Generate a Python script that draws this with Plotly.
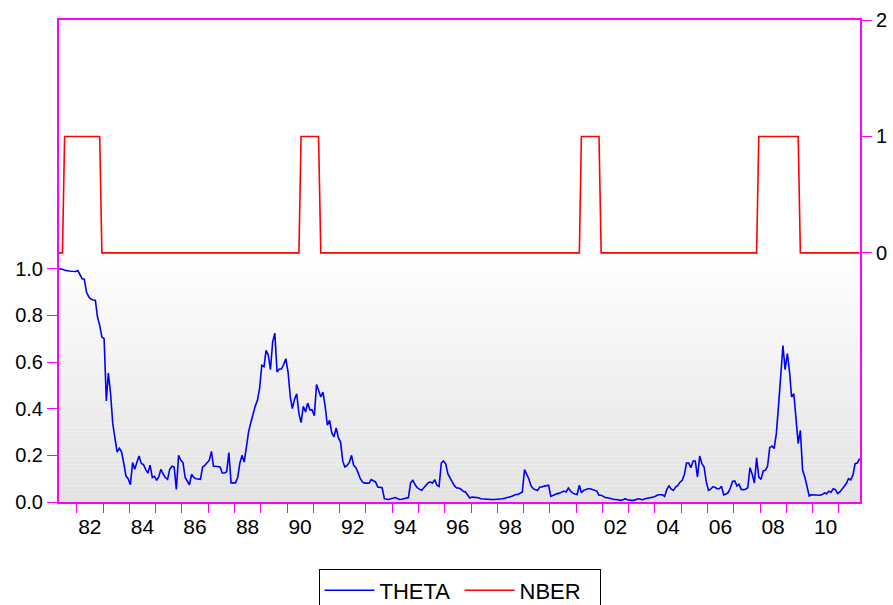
import plotly.graph_objects as go
import pandas as pd

# ---------------- data (monthly, 1981:04 - 2011:10) ----------------
theta_1981_1990 = [
    1.0, 1.0, 0.998, 0.993, 0.99, 0.99, 0.989, 0.988, 0.988,                      # 1981 Apr-Dec
    0.992, 0.97, 0.957, 0.955, 0.90, 0.88, 0.87, 0.866, 0.865, 0.793, 0.757, 0.707,  # 1982
    0.70, 0.433, 0.553, 0.465, 0.337, 0.273, 0.214, 0.23, 0.214, 0.166, 0.111, 0.10, # 1983
    0.074, 0.169, 0.14, 0.17, 0.197, 0.165, 0.16, 0.14, 0.124, 0.158, 0.105, 0.11,   # 1984
    0.093, 0.11, 0.14, 0.12, 0.105, 0.097, 0.14, 0.153, 0.15, 0.054, 0.20, 0.18,     # 1985
    0.169, 0.105, 0.09, 0.074, 0.118, 0.105, 0.10, 0.097, 0.097, 0.15, 0.157, 0.168, # 1986
    0.178, 0.217, 0.153, 0.153, 0.152, 0.15, 0.124, 0.124, 0.13, 0.212, 0.082, 0.082,# 1987
    0.082, 0.105, 0.165, 0.20, 0.171, 0.235, 0.30, 0.34, 0.379, 0.41, 0.436, 0.486,  # 1988
    0.586, 0.58, 0.65, 0.63, 0.567, 0.686, 0.724, 0.557, 0.57, 0.57, 0.59, 0.614,    # 1989
    0.557, 0.45, 0.40, 0.44, 0.464, 0.379, 0.34, 0.41, 0.386, 0.424, 0.395, 0.395,   # 1990
]
theta_1991_2000 = [
    0.37, 0.504, 0.479, 0.45, 0.471, 0.41, 0.329, 0.35, 0.296, 0.279, 0.317, 0.276,  # 1991
    0.257, 0.174, 0.15, 0.157, 0.17, 0.20, 0.157, 0.147, 0.125, 0.10, 0.086, 0.081,  # 1992
    0.081, 0.081, 0.096, 0.089, 0.086, 0.064, 0.062, 0.061, 0.014, 0.012, 0.011, 0.014, # 1993
    0.016, 0.019, 0.015, 0.011, 0.012, 0.014, 0.017, 0.019, 0.083, 0.093, 0.075, 0.061, # 1994
    0.055, 0.05, 0.06, 0.071, 0.082, 0.086, 0.081, 0.096, 0.072, 0.067, 0.167, 0.176,   # 1995
    0.164, 0.12, 0.10, 0.086, 0.07, 0.06, 0.06, 0.055, 0.046, 0.043, 0.03, 0.017,       # 1996
    0.021, 0.021, 0.021, 0.018, 0.014, 0.013, 0.011, 0.011, 0.011, 0.011, 0.011, 0.011, # 1997
    0.011, 0.012, 0.014, 0.016, 0.018, 0.021, 0.024, 0.028, 0.032, 0.032, 0.036, 0.043, # 1998
    0.139, 0.12, 0.10, 0.07, 0.057, 0.053, 0.05, 0.064, 0.064, 0.068, 0.07, 0.072,      # 1999
    0.024, 0.029, 0.033, 0.036, 0.038, 0.042, 0.047, 0.043, 0.06, 0.047, 0.038, 0.034,  # 2000
]
theta_2001_2011 = [
    0.032, 0.072, 0.04, 0.05, 0.055, 0.057, 0.057, 0.054, 0.05, 0.047, 0.029, 0.029,   # 2001
    0.024, 0.018, 0.018, 0.016, 0.011, 0.011, 0.011, 0.009, 0.007, 0.01, 0.014, 0.01,  # 2002
    0.007, 0.007, 0.007, 0.01, 0.014, 0.012, 0.01, 0.014, 0.015, 0.017, 0.019, 0.021,  # 2003
    0.026, 0.031, 0.031, 0.031, 0.024, 0.054, 0.069, 0.055, 0.05, 0.064, 0.071, 0.085, # 2004
    0.093, 0.119, 0.167, 0.167, 0.147, 0.176, 0.176, 0.107, 0.197, 0.164, 0.15, 0.086, # 2005
    0.05, 0.055, 0.065, 0.063, 0.057, 0.057, 0.067, 0.03, 0.034, 0.04, 0.06, 0.088,    # 2006
    0.09, 0.069, 0.076, 0.054, 0.053, 0.055, 0.061, 0.147, 0.119, 0.081, 0.189, 0.107, # 2007
    0.097, 0.133, 0.136, 0.153, 0.233, 0.24, 0.229, 0.293, 0.414, 0.557, 0.671, 0.567, # 2008
    0.636, 0.557, 0.45, 0.464, 0.357, 0.25, 0.307, 0.136, 0.107, 0.064, 0.026, 0.031,  # 2009
    0.03, 0.029, 0.029, 0.029, 0.032, 0.039, 0.035, 0.046, 0.042, 0.057, 0.053, 0.036, # 2010
    0.043, 0.055, 0.066, 0.079, 0.10, 0.095, 0.115, 0.164, 0.167, 0.186,              # 2011 Jan-Oct
]
theta = theta_1981_1990 + theta_1991_2000 + theta_2001_2011

# NBER recession months
recession_start = ["1981-07", "1990-07", "2001-03", "2007-12"]
recession_end = ["1982-11", "1991-03", "2001-11", "2009-06"]

tick_years = list(range(1982, 2012))
label_years = list(range(1982, 2011, 2))
label_text = ["82", "84", "86", "88", "90", "92", "94", "96", "98",
              "00", "02", "04", "06", "08", "10"]
left_ticks = [0.0, 0.2, 0.4, 0.6, 0.8, 1.0]
right_ticks = [0, 1, 2]

# ---------------- build ----------------
months = pd.date_range("1981-04-01", periods=len(theta), freq="MS")
xdates = months + pd.Timedelta(days=14)
rs = [pd.Timestamp(s + "-01") for s in recession_start]
re_ = [pd.Timestamp(e + "-01") for e in recession_end]
nber = [1 if any(s <= m <= e for s, e in zip(rs, re_)) else 0 for m in months]

MAG = "#FF00FF"
FONT = "Liberation Sans, Arial, sans-serif"
xrange_ = ["1981-04-28", "2011-10-22"]

fig = go.Figure()
fig.add_trace(go.Scatter(x=xdates, y=theta, name="THETA", mode="lines",
                         line=dict(color="#0000FF", width=1.6), xaxis="x", yaxis="y"))
fig.add_trace(go.Scatter(x=xdates, y=nber, name="NBER", mode="lines",
                         line=dict(color="#FF0000", width=1.6), xaxis="x", yaxis="y2"))
fig.add_trace(go.Scatter(x=[xdates[0]], y=[None], xaxis="x2", yaxis="y",
                         showlegend=False, hoverinfo="skip"))

# gradient background (lower panel)
grad_top = 1.066
nb = 60
shapes = []
for i in range(nb):
    y0 = grad_top * i / nb
    y1 = grad_top * (i + 1) / nb
    t = (i + 0.5) / nb
    c = int(round(226 + (255 - 226) * t))
    shapes.append(dict(type="rect", xref="paper", yref="y", x0=0, x1=1, y0=y0, y1=y1,
                       fillcolor=f"rgb({c},{c},{c})", line=dict(width=0), layer="below"))

fig.update_layout(
    width=893, height=605,
    margin=dict(l=59, r=33, t=20, b=103, autoexpand=False),
    paper_bgcolor="white", plot_bgcolor="white",
    font=dict(family=FONT, size=20, color="black"),
    shapes=shapes,
    showlegend=True,
    legend=dict(orientation="h", x=0.5, xanchor="center", y=-0.138, yanchor="top",
                bordercolor="black", borderwidth=1, bgcolor="white",
                font=dict(size=22, family=FONT), itemwidth=50, tracegroupgap=0,
                entrywidth=75, entrywidthmode="pixels"),
    xaxis=dict(type="date", range=xrange_, showgrid=False, zeroline=False,
               tickvals=[f"{y}-01-01" for y in tick_years], showticklabels=False,
               ticks="outside", ticklen=9, tickwidth=1, tickcolor=MAG,
               showline=True, linecolor=MAG, linewidth=2, mirror=True),
    xaxis2=dict(type="date", range=xrange_, overlaying="x", side="bottom", anchor="y",
                showgrid=False, zeroline=False, showline=False,
                tickvals=[f"{y}-07-01" for y in label_years], ticktext=label_text,
                ticks="outside", ticklen=6, tickcolor="rgba(0,0,0,0)",
                tickfont=dict(size=21, family=FONT)),
    yaxis=dict(range=[0, 2.066], showgrid=False, zeroline=False,
               tickvals=left_ticks, ticktext=[f"{v:.1f}" for v in left_ticks],
               ticks="outside", ticklen=10, tickwidth=1, tickcolor=MAG,
               showline=True, linecolor=MAG, linewidth=2,
               tickfont=dict(size=20, family=FONT)),
    yaxis2=dict(range=[-2.14, 2.0], overlaying="y", side="right", anchor="x",
                showgrid=False, zeroline=False,
                tickvals=right_ticks, ticktext=[str(v) for v in right_ticks],
                ticks="outside", ticklen=10, tickwidth=1, tickcolor=MAG,
                showline=True, linecolor=MAG, linewidth=2,
                tickfont=dict(size=20, family=FONT)),
)

fig.write_html("out.html", config={"displayModeBar": False},
               post_script="document.body.style.margin='0';document.body.style.padding='0';")
